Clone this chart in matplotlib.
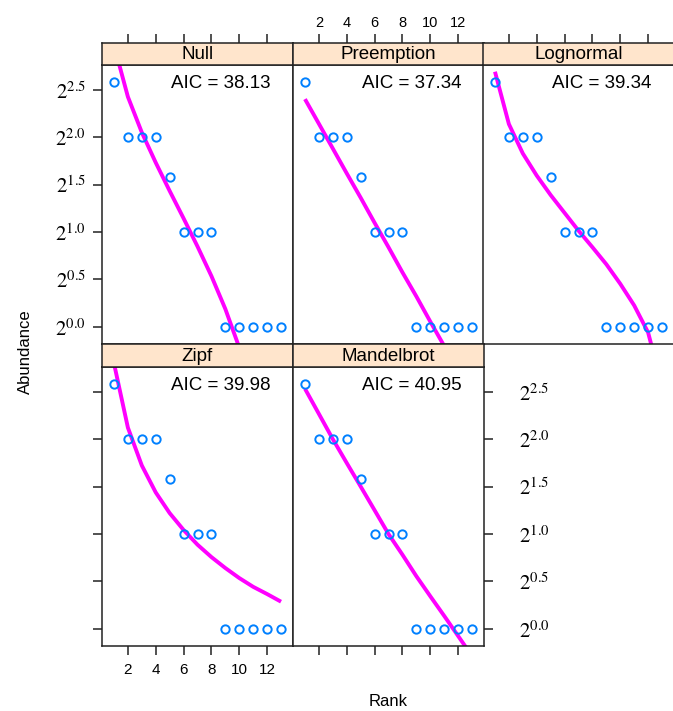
import numpy as np
import matplotlib.pyplot as plt

plt.rcParams['font.family'] = ['Liberation Sans', 'DejaVu Sans']
plt.rcParams['mathtext.fontset'] = 'stix'

# observed rank-abundance data
rank = np.arange(1, 14)
abundance = [6, 4, 4, 4, 3, 2, 2, 2, 1, 1, 1, 1, 1]

models = ['Null', 'Preemption', 'Lognormal', 'Zipf', 'Mandelbrot']
aic = [38.13, 37.34, 39.34, 39.98, 40.95]

# fitted abundances
fit_null = [7.83, 5.37, 4.14, 3.32, 2.70, 2.21, 1.80, 1.45, 1.14, 0.86, 0.62, 0.39, 0.19]
fit_preemption = [5.28, 4.41, 3.68, 3.07, 2.57, 2.14, 1.79, 1.49, 1.25, 1.04, 0.87, 0.73, 0.61]
fit_lognormal = [6.45, 4.40, 3.55, 3.02, 2.62, 2.30, 2.02, 1.79, 1.58, 1.37, 1.17, 0.96, 0.65]
fit_zipf = [6.96, 4.35, 3.30, 2.71, 2.33, 2.06, 1.85, 1.69, 1.56, 1.45, 1.36, 1.29, 1.22]
fit_mandelbrot = [5.78, 4.81, 4.00, 3.36, 2.83, 2.38, 2.00, 1.72, 1.47, 1.27, 1.10, 0.95, 0.82]
fits = [fit_null, fit_preemption, fit_lognormal, fit_zipf, fit_mandelbrot]

xticks = [2, 4, 6, 8, 10, 12]
yexp = [0.0, 0.5, 1.0, 1.5, 2.0, 2.5]
ylabels = [r'$2^{%.1f}$' % e for e in yexp]

W, H = 673, 711
fig = plt.figure(figsize=(W / 100, H / 100), dpi=100)


def px_axes(x0, y0, x1, y1):
    return fig.add_axes([x0 / W, 1 - y1 / H, (x1 - x0) / W, (y1 - y0) / H])


col_left = [102, 293, 483]
rows = [(43, 65, 344), (344, 367, 646)]  # strip top, panel top, panel bottom
edge = '#222222'

for i, name in enumerate(models):
    r, c = divmod(i, 3)
    s0, p0, p1 = rows[r]
    x0 = col_left[c]
    x1 = x0 + 191

    ax = px_axes(x0, p0, x1, p1)
    ax.plot(rank, fits[i], color='#ff00ff', lw=2.8, zorder=2,
            solid_joinstyle='round', solid_capstyle='butt')
    ax.plot(rank, abundance, 'o', mfc='none', mec='#0080ff', ms=6, mew=1.4, zorder=3)
    ax.set_xlim(0.14, 13.86)
    ax.set_yscale('log', base=2)
    ax.set_ylim(2 ** -0.18, 2 ** 2.76)
    ax.minorticks_off()
    ax.set_xticks(xticks)
    ax.set_yticks([2 ** e for e in yexp])
    ax.set_yticklabels(ylabels)
    ax.set_xticklabels([str(t) for t in xticks])
    ax.tick_params(which='both', left=False, right=False, top=False, bottom=False,
                   labelleft=False, labelright=False, labeltop=False, labelbottom=False,
                   direction='out', length=6.5, width=1.1, color=edge)
    ax.tick_params(axis='y', labelsize=15)
    ax.tick_params(axis='x', labelsize=11, pad=6)
    for sp in ax.spines.values():
        sp.set_color(edge)
        sp.set_linewidth(1.1)
    ax.text(0.883, 0.935, 'AIC = %.2f' % aic[i], transform=ax.transAxes,
            ha='right', va='center', fontsize=13.5)

    if c == 0:
        ax.tick_params(axis='y', left=True, labelleft=(r == 0), pad=5)
    if r == 1:
        ax.tick_params(axis='x', bottom=True, labelbottom=(c == 0))
    if r == 1 and c == 1:
        ax.tick_params(axis='y', right=True, labelright=True, pad=19)

    st = px_axes(x0, s0, x1, p0)
    st.set_facecolor('#ffe5cc')
    st.set_xlim(0.14, 13.86)
    st.set_yticks([])
    st.set_xticks(xticks)
    st.set_xticklabels([str(t) for t in xticks])
    st.tick_params(axis='x', bottom=False, labelbottom=False, top=(r == 0),
                   labeltop=(r == 0 and c == 1), direction='out', length=6.5,
                   width=1.1, color=edge, labelsize=10.5, pad=3)
    for sp in st.spines.values():
        sp.set_color(edge)
        sp.set_linewidth(1.1)
    st.text(0.5, 0.47, name, transform=st.transAxes, ha='center', va='center',
            fontsize=13.5)

fig.text(388 / W, 1 - 702 / H, 'Rank', ha='center', va='center', fontsize=12)
fig.text(25 / W, 1 - 352 / H, 'Abundance', ha='center', va='center',
         rotation=90, fontsize=12)

fig.savefig('out.png', dpi=100)
